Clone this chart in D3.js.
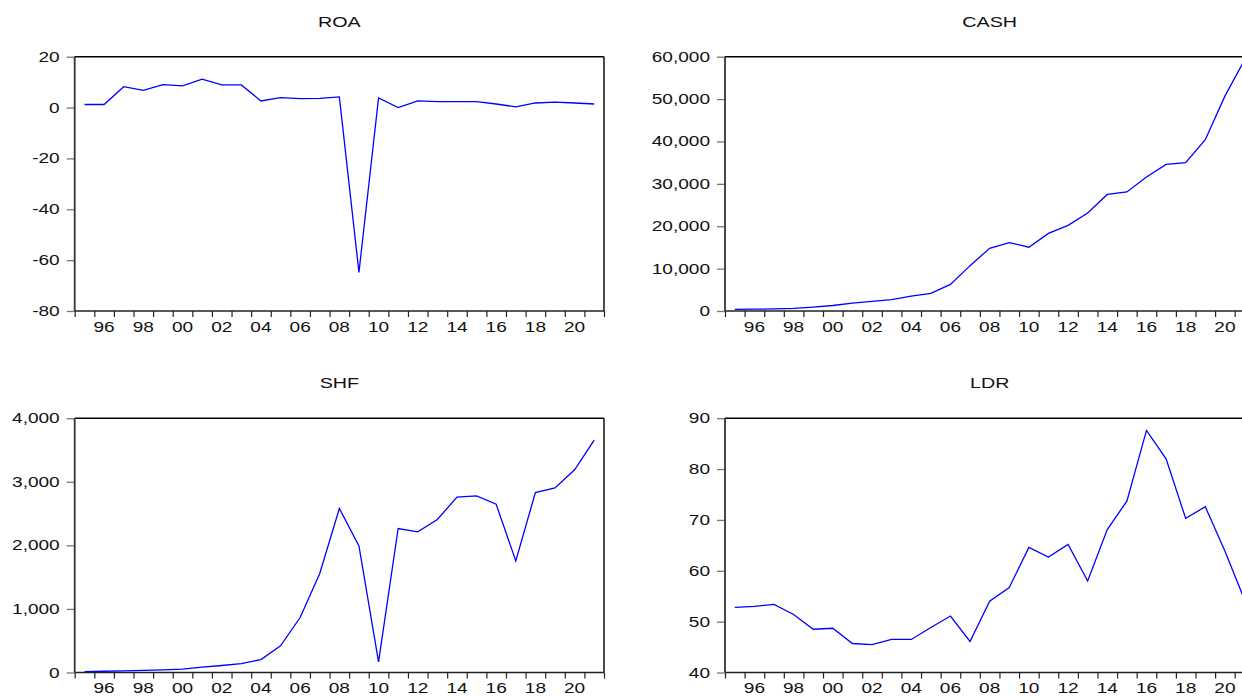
<!DOCTYPE html>
<html>
<head>
<meta charset="utf-8">
<script src="https://cdn.jsdelivr.net/npm/d3@7"></script>
<style>
  html, body { margin: 0; padding: 0; background: #fff; }
  svg { display: block; }
  text { font-family: "Liberation Sans", Arial, sans-serif; fill: #111; }
</style>
</head>
<body>
<svg id="chart" width="1242" height="696"></svg>
<script>
// ---- data ----
const years = d3.range(1995, 2022);
const roa  = [1.2, 1.2, 8.2, 6.8, 9.0, 8.5, 11.2, 8.9, 8.9, 2.6, 3.9, 3.5, 3.6, 4.2, -64.8, 3.8, 0.0, 2.6, 2.3, 2.3, 2.3, 1.4, 0.3, 1.8, 2.1, 1.8, 1.4];
const cash = [400, 420, 500, 600, 900, 1300, 1880, 2270, 2700, 3500, 4150, 6270, 10700, 14800, 16150, 15050, 18300, 20200, 23100, 27500, 28100, 31600, 34600, 35000, 40400, 50700, 59200];
const shf  = [15, 20, 25, 35, 42, 52, 85, 110, 140, 204, 420, 865, 1557, 2580, 1992, 168, 2265, 2212, 2406, 2758, 2778, 2647, 1756, 2831, 2904, 3188, 3654];
const ldr  = [52.8, 53.0, 53.4, 51.4, 48.5, 48.7, 45.7, 45.5, 46.5, 46.5, 48.85, 51.1, 46.1, 54.0, 56.7, 64.6, 62.7, 65.2, 58.0, 68.1, 73.7, 87.6, 82.0, 70.3, 72.6, 63.9, 54.3];

const xTickLabels = ["96","98","00","02","04","06","08","10","12","14","16","18","20"];
const roaTicks  = [20, 0, -20, -40, -60, -80];
const cashTicks = [0, 10000, 20000, 30000, 40000, 50000, 60000];
const shfTicks  = [0, 1000, 2000, 3000, 4000];
const ldrTicks  = [40, 50, 60, 70, 80, 90];

const panels = [
  { title: "ROA",  values: roa,  domain: [-80, 20],   ticks: roaTicks,  x0: 74.7, y0: 56.7 },
  { title: "CASH", values: cash, domain: [0, 60000],  ticks: cashTicks, x0: 725.0, y0: 56.7 },
  { title: "SHF",  values: shf,  domain: [0, 4000],   ticks: shfTicks,  x0: 74.7, y0: 418.2 },
  { title: "LDR",  values: ldr,  domain: [40, 90],    ticks: ldrTicks,  x0: 725.0, y0: 418.2 }
];

const W = 529.3, H = 254.3;
const SX = 1.36;       // horizontal stretch of text
const fmt = d3.formatLocale({ decimal: ".", thousands: ",", grouping: [3], currency: ["", ""], minus: "-" }).format(",");
const svg = d3.select("#chart");

function stretchedText(g, x, y, str, anchor, size) {
  return g.append("text")
    .attr("transform", `translate(${x},${y}) scale(${SX},1)`)
    .attr("text-anchor", anchor)
    .style("font-size", size + "px")
    .text(str);
}

panels.forEach(p => {
  const g = svg.append("g");
  const x = d3.scaleLinear().domain([1995, 2022]).range([p.x0, p.x0 + W]);
  const y = d3.scaleLinear().domain(p.domain).range([p.y0 + H, p.y0]);

  // title
  stretchedText(g, p.x0 + W / 2, p.y0 - 30, p.title, "middle", 14.5);

  // y axis ticks (outward, grey)
  const yAxis = d3.axisLeft(y).tickValues(p.ticks).tickSize(8).tickFormat(d => fmt(d));
  const ya = g.append("g").attr("transform", `translate(${p.x0},0)`).call(yAxis);
  ya.select(".domain").remove();
  ya.selectAll("line").attr("stroke", "#777").attr("stroke-width", 1.3);
  ya.selectAll("text").remove();
  p.ticks.forEach(t => {
    stretchedText(g, p.x0 - 15, y(t) + 5, fmt(t), "end", 14);
  });

  // x axis ticks at every year boundary
  const xAxis = d3.axisBottom(x).tickValues(d3.range(1995, 2023)).tickSize(6).tickFormat("");
  const xa = g.append("g").attr("transform", `translate(0,${p.y0 + H})`).call(xAxis);
  xa.select(".domain").remove();
  xa.selectAll("line").attr("stroke", "#222").attr("stroke-width", 1.2);
  xTickLabels.forEach((lab, i) => {
    const yr = 1996 + 2 * i;
    stretchedText(g, x(yr + 0.5), p.y0 + H + 20.5, lab, "middle", 14);
  });

  // frame
  g.append("line").attr("x1", p.x0).attr("x2", p.x0 + W).attr("y1", p.y0).attr("y2", p.y0)
    .attr("stroke", "#000").attr("stroke-width", 1.4);
  g.append("line").attr("x1", p.x0 + W).attr("x2", p.x0 + W).attr("y1", p.y0).attr("y2", p.y0 + H)
    .attr("stroke", "#000").attr("stroke-width", 1.4);
  g.append("line").attr("x1", p.x0).attr("x2", p.x0 + W).attr("y1", p.y0 + H).attr("y2", p.y0 + H)
    .attr("stroke", "#222").attr("stroke-width", 1.4);
  g.append("line").attr("x1", p.x0).attr("x2", p.x0).attr("y1", p.y0).attr("y2", p.y0 + H)
    .attr("stroke", "#333").attr("stroke-width", 1.8);

  // series
  const line = d3.line().x((d, i) => x(years[i] + 0.5)).y(d => y(d));
  g.append("path").datum(p.values)
    .attr("d", line)
    .attr("fill", "none")
    .attr("stroke", "#0000ff")
    .attr("stroke-width", 1.3)
    .attr("stroke-linejoin", "miter");
});
</script>
</body>
</html>
